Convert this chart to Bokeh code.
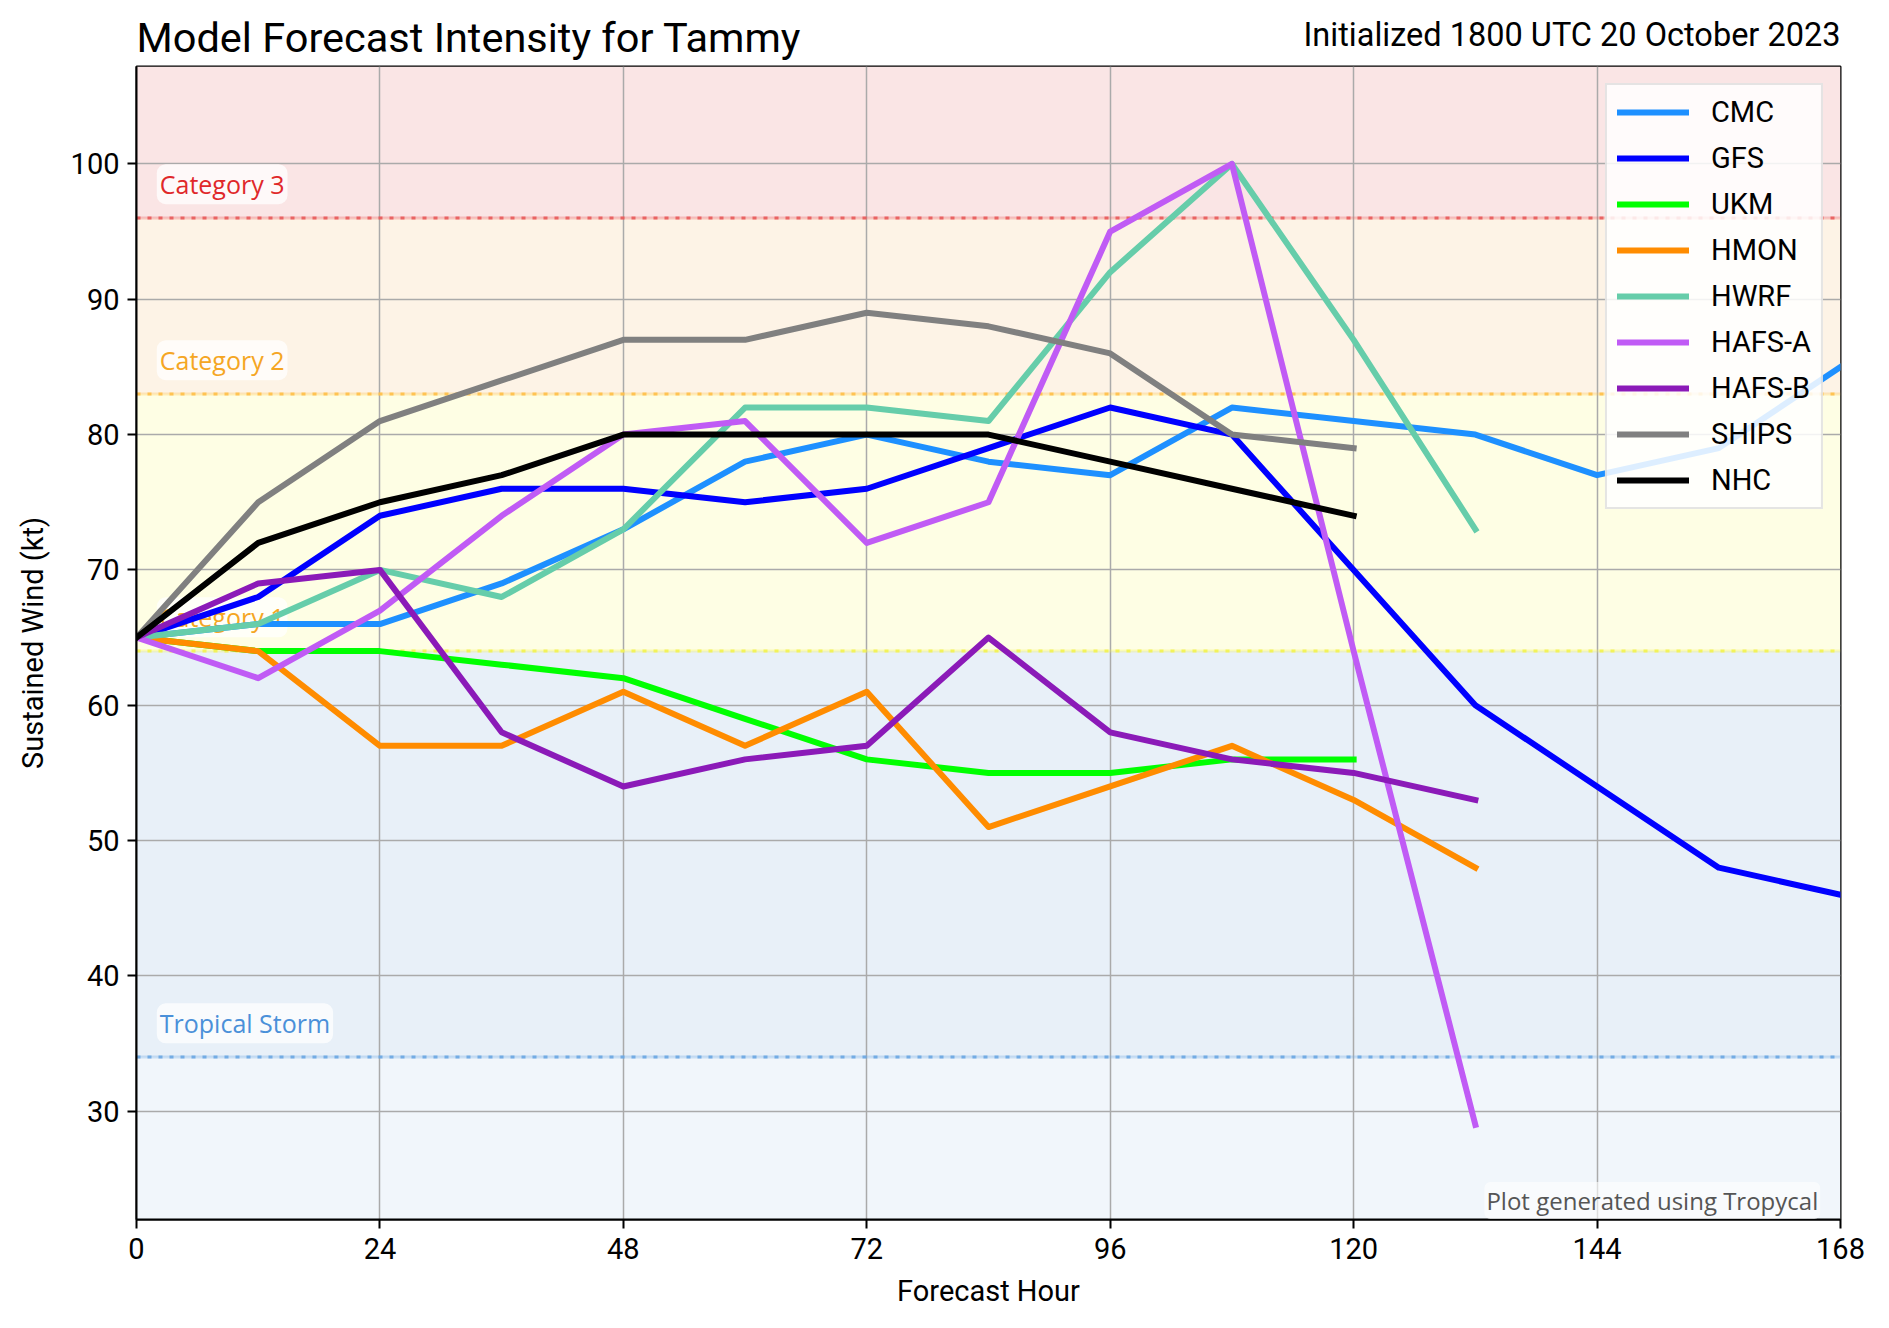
from bokeh.plotting import figure
from bokeh.layouts import column
from bokeh.models import (Range1d, Legend, LegendItem, Label, BoxAnnotation,
                          Span, FixedTicker, ColumnDataSource)
from bokeh.embed import file_html
from bokeh.resources import INLINE
from bokeh.core.properties import value

# Forecast hours and sustained wind (kt) by model
hours = [0, 12, 24, 36, 48, 60, 72, 84, 96, 108, 120, 132, 144, 156, 168]

cmc = [65, 66, 66, 69, 73, 78, 80, 78, 77, 82, 81, 80, 77, 79, 85]
gfs = [65, 68, 74, 76, 76, 75, 76, 79, 82, 80, 70, 60, 54, 48, 46]
ukm = [65, 64, 64, 63, 62, 59, 56, 55, 55, 56, 56]
hmon = [65, 64, 57, 57, 61, 57, 61, 51, 54, 57, 53, 48]
hwrf = [65, 66, 70, 68, 73, 82, 82, 81, 92, 100, 87, 73]
hafs_a = [65, 62, 67, 74, 80, 81, 72, 75, 95, 100, 64, 29]
hafs_b = [65, 69, 70, 58, 54, 56, 57, 65, 58, 56, 55, 53]
ships = [65, 75, 81, 84, 87, 87, 89, 88, 86, 80, 79]
nhc = [65, 72, 75, 77, 80, 80, 80, 80, 78, 76, 74]

models = ["CMC", "GFS", "UKM", "HMON", "HWRF", "HAFS-A", "HAFS-B", "SHIPS", "NHC"]
series = [cmc, gfs, ukm, hmon, hwrf, hafs_a, hafs_b, ships, nhc]
colors = ["#1e90ff", "#0000ff", "#00ff00", "#ff8c00", "#66cdaa",
          "#c05bf5", "#8b1ab8", "#808080", "#000000"]

# Saffir-Simpson thresholds (kt), label text and colours
thresholds = [34, 64, 83, 96]
threshold_names = ["Tropical Storm", "Category 1", "Category 2", "Category 3"]
threshold_text_colors = ["#4a90d9", "#f5a623", "#f5a623", "#e0282a"]
threshold_line_colors = ["#6aa6e2", "#f2f250", "#ffbf47", "#e85a5a"]
band_edges = [None, 34, 64, 83, 96, None]
band_colors = ["#f1f6fb", "#e8f0f8", "#fefee4", "#fdf3e6", "#fae5e5"]

x_ticks = [0, 24, 48, 72, 96, 120, 144, 168]
y_ticks = [30, 40, 50, 60, 70, 80, 90, 100]

title_text = "Model Forecast Intensity for Tammy"
init_text = "Initialized 1800 UTC 20 October 2023"

MAIN_FONT = "Roboto"
TEXT_FONT = "Open Sans"

BORDER_L, BORDER_R = 136, 49
HEADER_H = 65

# Header strip holding the two title texts
head = figure(width=1889, height=HEADER_H, output_backend="svg",
              toolbar_location=None, title_location=None,
              x_range=Range1d(0, 168), y_range=Range1d(0, HEADER_H),
              x_axis_location=None, y_axis_location=None,
              min_border_left=BORDER_L, min_border_right=BORDER_R,
              min_border_top=0, min_border_bottom=0)
head.outline_line_color = None
head.xgrid.visible = False
head.ygrid.visible = False
head.add_layout(Label(x=0, y=28.5, text=title_text, text_font=MAIN_FONT,
                      text_font_size="41.5px", text_color="black",
                      text_align="left", text_baseline="alphabetic"))
head.add_layout(Label(x=168, y=30.5, text=init_text, text_font=MAIN_FONT,
                      text_font_size="32.5px", text_color="black",
                      text_align="right", text_baseline="alphabetic"))

# Main chart
p = figure(width=1889, height=1328 - HEADER_H, output_backend="svg",
           toolbar_location=None, title_location=None,
           x_range=Range1d(0, 168), y_range=Range1d(22.0, 107.2),
           min_border_left=BORDER_L, min_border_right=BORDER_R,
           min_border_top=1, min_border_bottom=109)
p.background_fill_color = "white"
p.outline_line_color = "black"
p.outline_line_width = 2

# Intensity bands
for i, c in enumerate(band_colors):
    b = BoxAnnotation(bottom=band_edges[i], top=band_edges[i + 1],
                      fill_color=c, fill_alpha=1.0, line_alpha=0, level="image")
    p.add_layout(b)

# Grid
p.xgrid.grid_line_color = "#aaaaaa"
p.ygrid.grid_line_color = "#aaaaaa"
p.xgrid.grid_line_width = 1.5
p.ygrid.grid_line_width = 1.5
p.xgrid.level = "underlay"
p.ygrid.level = "underlay"

# Threshold lines
for t, lc in zip(thresholds, threshold_line_colors):
    p.add_layout(Span(location=t, dimension="width", line_color=lc,
                      line_alpha=0.3, line_width=3, level="underlay"))
    p.add_layout(Span(location=t, dimension="width", line_color=lc,
                      line_alpha=0.9, line_width=3, line_dash="4 7",
                      level="underlay"))

# Threshold labels (drawn under the model lines)
lab_src = ColumnDataSource(dict(x=[2.0] * 4, y=[t + 2.5 for t in thresholds],
                                text=threshold_names, color=threshold_text_colors))
p.text(x="x", y="y", text="text", text_color="color", source=lab_src,
       text_font=value(TEXT_FONT), text_font_size="25px",
       text_baseline="middle", text_align="left",
       background_fill_color="white", background_fill_alpha=0.75,
       border_radius=9, padding=3)

# Model tracks
items = []
for name, vals, col in zip(models, series, colors):
    r = p.line(hours[:len(vals)], vals, line_color=col, line_width=6,
               line_join="round", line_cap="square")
    items.append(LegendItem(label=name, renderers=[r]))

legend = Legend(items=items, location="top_right")
legend.label_text_font = MAIN_FONT
legend.label_text_font_size = "29px"
legend.label_text_color = "black"
legend.glyph_width = 72
legend.glyph_height = 30
legend.label_height = 30
legend.spacing = 12
legend.label_standoff = 22
legend.padding = 10
legend.margin = 17
legend.background_fill_color = "white"
legend.background_fill_alpha = 0.85
legend.border_line_color = "#cccccc"
legend.border_line_width = 2
p.add_layout(legend)

# Axes
for ax in (p.xaxis, p.yaxis):
    ax.major_label_text_font = MAIN_FONT
    ax.major_label_text_font_size = "29px"
    ax.major_label_text_color = "black"
    ax.axis_label_text_font = MAIN_FONT
    ax.axis_label_text_font_size = "29px"
    ax.axis_label_text_font_style = "normal"
    ax.axis_label_text_color = "black"
    ax.axis_line_color = "black"
    ax.axis_line_width = 2
    ax.major_tick_line_color = "black"
    ax.major_tick_line_width = 2
    ax.major_tick_out = 9
    ax.major_tick_in = 0
    ax.minor_tick_line_color = None

p.xaxis.ticker = FixedTicker(ticks=x_ticks)
p.yaxis.ticker = FixedTicker(ticks=y_ticks)
p.xaxis.axis_label = "Forecast Hour"
p.yaxis.axis_label = "Sustained Wind (kt)"
p.xaxis.major_label_standoff = 9
p.yaxis.major_label_standoff = 8
p.xaxis.axis_label_standoff = 12
p.yaxis.axis_label_standoff = 18

# Credit
p.add_layout(Label(x=166.0, y=23.4, text="Plot generated using Tropycal",
                   text_font=TEXT_FONT, text_font_size="24px", text_color="#555555",
                   text_align="right", text_baseline="alphabetic",
                   background_fill_color="white", background_fill_alpha=0.6,
                   border_radius=6, padding=2))

layout = column(head, p, spacing=0)
open("out.html", "w").write(file_html(layout, INLINE))
